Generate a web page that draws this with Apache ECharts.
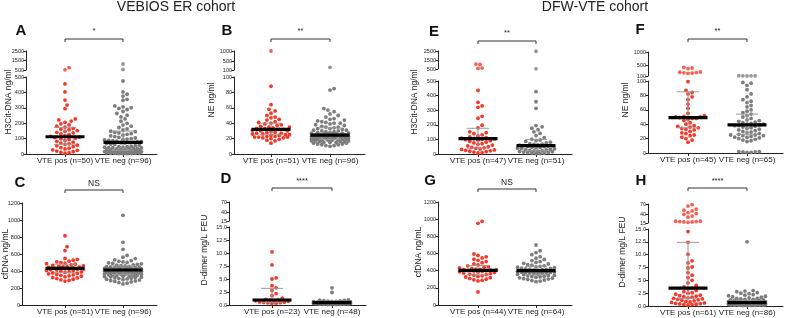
<!DOCTYPE html>
<html><head><meta charset="utf-8">
<script src="https://cdn.jsdelivr.net/npm/echarts@6/dist/echarts.min.js"></script>
<style>html,body{margin:0;padding:0;background:#fff}#c{width:786px;height:318px}</style>
</head><body><div id="c"></div>
<script>
// ---------- DATA ----------
const A_pos = [750,520,455,403,350,318,294,228,221,214,206,196,189,181,174,166,161,158,152,147,141,137,131,126,119,114,110,107,103,99,94,89,82,77,71,66,62,57,53,47,42,38,33,27,24,19,15,11,8,5];
const A_neg = [1130,560,474,403,388,376,355,349,312,306,301,296,289,276,263,252,241,228,213,199,188,181,172,163,156,148,145,141,137,132,128,122,118,113,108,104,100,97,94,91,89,86,83,80,78,76,74,73,71,68,64,61,57,54,51,48,47,45,44,42,41,39,37,36,34,33,31,30,28,27,26,24,23,21,20,19,18,16,15,14,13,12,11,10,9,8,8,7,6,5,5,4,3,3,2,2];
const B_pos = [1000,88,64,58,56,53,50,48,47,45,44,42,41,40,39,38,37,36,35,35,34,33,33,32,32,31,30,30,29,28,28,27,27,26,26,25,25,24,24,23,23,22,22,22,21,21,20,19,18,17,14];
const B_neg = [228,85,83,59,57,55,52,50,48,46,45,44,43,42,41,40,40,39,38,37,36,35,35,34,33,33,32,31,31,30,30,29,29,28,28,27,27,27,26,26,26,26,25,25,25,25,24,24,24,24,24,23,23,23,23,22,22,22,22,22,21,21,21,21,20,20,20,20,19,19,19,19,18,18,18,18,17,17,17,16,16,16,15,15,15,14,14,13,13,12,12,11,11,10,20,21];
const C_pos = [815,686,640,548,536,527,516,508,499,493,486,480,473,466,461,457,452,446,441,437,434,431,429,426,423,419,415,411,406,401,397,392,388,383,377,371,366,360,354,349,343,338,331,325,318,311,303,296,290,282,452];
const C_neg = [1055,737,655,583,562,546,532,521,514,507,501,496,489,484,478,473,468,464,459,455,451,448,445,441,438,436,433,430,428,425,423,420,418,416,414,412,410,409,407,405,403,401,399,397,395,393,391,389,387,385,383,381,378,376,373,371,368,366,363,361,358,355,352,349,346,343,340,337,334,331,327,323,319,315,311,307,303,298,293,288,283,277,271,264,257,248,412,408,402,396,420,430,440,386,375,364];
const D_pos = [10.2,7.7,5.2,5.0,3.7,3.3,2.8,2.2,1.8,1.3,1.1,1.0,0.95,0.9,0.8,0.7,0.6,0.55,0.5,0.45,0.4,0.35,0.3];
const D_neg = [3.3,2.4,1.0,0.95,0.9,0.85,0.8,0.75,0.7,0.7,0.65,0.6,0.6,0.55,0.55,0.5,0.5,0.5,0.48,0.46,0.45,0.45,0.44,0.42,0.4,0.4,0.38,0.36,0.35,0.34,0.32,0.3,0.3,0.28,0.26,0.25,0.24,0.22,0.2,0.2,0.18,0.16,0.15,0.14,0.12,0.1,0.1,0.08];
const E_pos = [1050,1000,600,560,436,354,329,320,258,245,197,178,152,146,139,131,124,117,112,108,106,103,101,98,95,91,86,81,76,71,66,61,55,50,46,42,39,35,31,28,25,22,19,16,13,10,7];
const E_neg = [2470,520,427,358,313,195,186,177,166,152,141,126,112,101,96,91,86,81,76,71,68,65,62,60,58,56,54,52,50,47,45,42,40,37,35,32,30,28,25,23,21,19,17,15,13,11,9,7,5,4,3];
const F_pos = [420,400,380,250,240,230,220,210,200,99,87,84,82,78,74,68,62,55,52,51,50,50,49,48,48,47,45,42,40,38,37,36,35,34,33,32,30,28,27,25,24,22,20,18,15];
const F_neg = [110,108,106,105,104,98,97,94,88,82,78,74,72,70,66,64,60,58,56,54,52,50,48,46,45,44,43,42,41,40,40,39,38,38,37,36,35,34,33,32,31,30,29,28,27,26,25,25,24,24,23,22,22,21,20,19,18,17,16,2,2,1.5,1.5,1,1];
const G_pos = [975,952,594,578,561,548,533,521,506,492,479,466,456,447,439,432,425,418,412,409,405,401,398,395,391,387,383,378,372,366,360,353,347,340,333,326,318,310,301,293,287,280,152,415];
const G_neg = [699,632,611,586,563,546,531,518,506,496,486,478,470,463,456,450,445,440,435,430,426,422,418,414,410,407,404,401,398,395,392,389,386,383,380,377,373,369,365,361,357,353,348,344,340,336,331,327,322,317,312,307,302,297,291,285,279,272,396,404,411,388,379,399];
const H_pos = [68,64,55,52,50,45,42,40,35,32,20,20,19,19,18,18,17,14.5,12.4,10.1,8.8,8.4,7.6,7.4,6.5,6.0,5.5,5.0,4.5,4.0,3.7,3.5,3.3,3.0,2.8,2.6,2.5,2.3,2.1,2.0,1.9,1.8,1.7,1.6,1.5,1.4,1.3,1.2,1.1,1.0,0.9,0.8,0.7,0.6,0.5,0.45,0.4,0.35,0.3,0.25,0.2];
const H_neg = [12.5,3.0,2.9,2.8,2.6,2.5,2.4,2.2,2.1,2.0,1.9,1.8,1.7,1.6,1.5,1.5,1.4,1.3,1.3,1.2,1.2,1.1,1.1,1.0,1.0,1.0,0.9,0.9,0.9,0.85,0.8,0.8,0.8,0.75,0.7,0.7,0.7,0.7,0.65,0.65,0.6,0.6,0.6,0.6,0.55,0.55,0.55,0.5,0.5,0.5,0.5,0.48,0.46,0.45,0.45,0.44,0.42,0.4,0.4,0.4,0.38,0.36,0.35,0.35,0.34,0.32,0.3,0.3,0.3,0.28,0.26,0.25,0.25,0.24,0.22,0.2,0.2,0.2,0.18,0.16,0.15,0.14,0.12,0.1,0.1,0.08];

// median, Q1, Q3 per group [pos, neg]
const A_sum = [[112,63,173],[75,25,149]];
const B_sum = [[32,25,40],[24.5,19,34]];
const C_sum = [[431,380,480],[412,360,460]];
const D_sum = [[0.96,0.5,3.2],[0.45,0.3,0.7]];
const E_sum = [[105,40,176],[57,22,100]];
const F_sum = [[49,35,85],[39,26,54]];
const G_sum = [[404,350,460],[400,350,450]];
const H_sum = [[3.5,1.5,12.4],[0.65,0.4,1.1]];

// category labels
const A_x = ['VTE pos (n=50)','VTE neg (n=96)'];
const B_x = ['VTE pos (n=51)','VTE neg (n=96)'];
const C_x = ['VTE pos (n=51)','VTE neg (n=96)'];
const D_x = ['VTE pos (n=23)','VTE neg (n=48)'];
const E_x = ['VTE pos (n=47)','VTE neg (n=51)'];
const F_x = ['VTE pos (n=45)','VTE neg (n=65)'];
const G_x = ['VTE pos (n=44)','VTE neg (n=64)'];
const H_x = ['VTE pos (n=61)','VTE neg (n=86)'];

// tick labels
const H3_topTicks = [500,1500,2500];
const H3_lowTicks = [0,100,200,300,400,500];
const NE_topTicks = [100,500,1000];
const NE_lowTicks = [0,20,40,60,80,100];
const CF_ticks = [0,200,400,600,800,1000,1200];
const DD_topTicks = [15,40,70];
const DD_lowTicks = [0,2.5,5,7.5,10,12.5,15];

const titles = ['VEBIOS ER cohort','DFW-VTE cohort'];
const yNames = ['H3Cit-DNA ng/ml','NE ng/ml','cfDNA ng/mL','D-dimer mg/L FEU'];
const sigs = ['*','**','NS','****','**','**','NS','****'];
const letters = ['A','B','C','D','E','F','G','H'];

// ---------- LAYOUT ----------
const FONT = 'Liberation Sans, Arial, Helvetica, sans-serif';
const RED = '#f4392b', GREY = '#7d7d7d';
const DOT = 3.8;
const panels = [
 {pos:A_pos,neg:A_neg,sum:A_sum,xl:A_x,yn:yNames[0],top:H3_topTicks,low:H3_lowTicks,dec:0,
  g:{left:26,c0:65,c1:123,right:157,topY:[51,70],lowY:[77,154],letter:[21,31],yn:[9,102],brY:39,sigY:31}},
 {pos:B_pos,neg:B_neg,sum:B_sum,xl:B_x,yn:yNames[1],top:NE_topTicks,low:NE_lowTicks,dec:0,
  g:{left:234,c0:271,c1:330,right:365,topY:[51,70],lowY:[77,154],letter:[227,31],yn:[212,100],brY:39,sigY:31}},
 {pos:C_pos,neg:C_neg,sum:C_sum,xl:C_x,yn:yNames[2],top:null,low:CF_ticks,dec:0,
  g:{left:22,c0:65,c1:123,right:157,lowY:[203,305],letter:[20,183],yn:[6,254],brY:190,sigY:184}},
 {pos:D_pos,neg:D_neg,sum:D_sum,xl:D_x,yn:yNames[3],top:DD_topTicks,low:DD_lowTicks,dec:1,
  g:{left:229,c0:272,c1:332,right:366,topY:[202,221],lowY:[227,305],letter:[226,179],yn:[205,250],brY:188,sigY:181}},
 {pos:E_pos,neg:E_neg,sum:E_sum,xl:E_x,yn:yNames[0],top:H3_topTicks,low:H3_lowTicks,dec:0,
  g:{left:438,c0:478,c1:536,right:572,topY:[51,69],lowY:[81,154],letter:[434,32],yn:[415,102],brY:41,sigY:33}},
 {pos:F_pos,neg:F_neg,sum:F_sum,xl:F_x,yn:yNames[1],top:NE_topTicks,low:NE_lowTicks,dec:0,
  g:{left:648,c0:688,c1:747,right:783,topY:[52,76],lowY:[81,153],letter:[640,30],yn:[626,100],brY:39,sigY:31}},
 {pos:G_pos,neg:G_neg,sum:G_sum,xl:G_x,yn:yNames[2],top:null,low:CF_ticks,dec:0,
  g:{left:438,c0:478,c1:536,right:572,lowY:[202,305],letter:[430,181],yn:[419,252],brY:189,sigY:183}},
 {pos:H_pos,neg:H_neg,sum:H_sum,xl:H_x,yn:yNames[3],top:DD_topTicks,low:DD_lowTicks,dec:1,
  g:{left:648,c0:688,c1:747,right:783,topY:[204,223],lowY:[229,306],letter:[641,181],yn:[623,252],brY:188,sigY:181}}
];

// deterministic beeswarm layout (pixel offsets)
function swarm(vals, toPx, dia, maxW){
  const order = vals.map((v,i)=>i).sort((a,b)=>vals[a]-vals[b]);
  const placed = [], off = new Array(vals.length);
  const step = dia*0.5, nMax = Math.floor(maxW/step);
  for (const i of order){
    const y = toPx(vals[i]);
    let best = 0, bestD = -1;
    for (let k=0;k<=2*nMax;k++){
      const m = Math.ceil(k/2), x = (k%2 ? 1 : -1)*m*step;
      let minD = Infinity;
      for (const p of placed){
        if (Math.abs(p[1]-y) >= dia) continue;
        const d = Math.hypot(p[0]-x, p[1]-y);
        if (d < minD) minD = d;
      }
      if (minD >= dia){ best = x; break; }
      if (minD > bestD){ bestD = minD; best = x; }
    }
    off[i] = best; placed.push([best,y]);
  }
  return off;
}

const grids=[], xAxes=[], yAxes=[], series=[], graphic=[];
const axisLine = {show:true,onZero:false,lineStyle:{color:'#222',width:1}};
const tickStyle = {color:'#222',width:1};

panels.forEach((p,pi)=>{
  const g = p.g, sp = g.c1-g.c0;
  const xmin = (g.left-g.c0)/sp, xmax = (g.right-g.c0)/sp;
  const lowMin = p.low[0], lowMax = p.low[p.low.length-1];
  const hasTop = !!p.top;
  const toPx = v=>{
    if (hasTop && v>lowMax){ const t=p.top; return g.topY[1]-(v-t[0])/(t[t.length-1]-t[0])*(g.topY[1]-g.topY[0]); }
    return g.lowY[1]-(v-lowMin)/(lowMax-lowMin)*(g.lowY[1]-g.lowY[0]);
  };
  const groups = [p.pos,p.neg];
  const offs = groups.map(v=>swarm(v,toPx,DOT+0.3,20));
  const fmt = v=> p.dec ? Number(v).toFixed(p.dec) : String(v);

  // lower grid
  const gi = grids.length;
  grids.push({left:g.left,top:g.lowY[0],width:g.right-g.left,height:g.lowY[1]-g.lowY[0]});
  xAxes.push({gridIndex:gi,type:'value',min:xmin,max:xmax,axisLine,
    axisTick:{show:true,customValues:[0,1],length:3,lineStyle:tickStyle},
    axisLabel:{show:true,customValues:[0,1],hideOverlap:false,formatter:v=>p.xl[Math.round(v)],fontSize:8,color:'#222',margin:3,fontFamily:FONT},
    splitLine:{show:false}});
  yAxes.push({gridIndex:gi,type:'value',min:lowMin,max:lowMax,interval:p.low[1]-p.low[0],axisLine,
    axisTick:{show:true,length:2.5,lineStyle:tickStyle},
    axisLabel:{fontSize:5.5,color:'#222',margin:2,hideOverlap:false,formatter:fmt,fontFamily:FONT},
    splitLine:{show:false}});
  groups.forEach((vals,k)=>{
    const data = [];
    vals.forEach((v,i)=>{ if(!(hasTop && v>lowMax)) data.push([k+offs[k][i]/sp, v]); });
    series.push({type:'scatter',xAxisIndex:gi,yAxisIndex:gi,data,symbol:'circle',symbolSize:DOT,clip:false,
      itemStyle:{color:k?GREY:RED,opacity:1},silent:true,z:2});
  });
  series.push({type:'custom',xAxisIndex:gi,yAxisIndex:gi,z:5,silent:true,clip:false,
    data:p.sum.map((s,k)=>[k,s[0],s[1],s[2]]),encode:{x:0,y:1},
    renderItem:(params,api)=>{
      const x=api.value(0), pm=api.coord([x,api.value(1)]), p1=api.coord([x,api.value(2)]), p3=api.coord([x,api.value(3)]);
      const st={stroke:'#9a9a9a',lineWidth:1};
      return {type:'group',children:[
        {type:'line',shape:{x1:pm[0],y1:p1[1],x2:pm[0],y2:p3[1]},style:st},
        {type:'line',shape:{x1:pm[0]-11,y1:p1[1],x2:pm[0]+11,y2:p1[1]},style:st},
        {type:'line',shape:{x1:pm[0]-11,y1:p3[1],x2:pm[0]+11,y2:p3[1]},style:st},
        {type:'rect',shape:{x:pm[0]-19.5,y:pm[1]-1.6,width:39,height:3.2},style:{fill:'#000'}}
      ]};
    }});

  // top (broken-axis) grid
  if (hasTop){
    const ti = grids.length, t = p.top;
    grids.push({left:g.left,top:g.topY[0],width:g.right-g.left,height:g.topY[1]-g.topY[0]});
    xAxes.push({gridIndex:ti,type:'value',min:xmin,max:xmax,show:false});
    yAxes.push({gridIndex:ti,type:'value',min:t[0],max:t[t.length-1],axisLine,
      axisTick:{show:true,length:2.5,customValues:t,lineStyle:tickStyle},
      axisLabel:{fontSize:5.5,color:'#222',margin:2,hideOverlap:false,customValues:t,formatter:v=>String(v),fontFamily:FONT},
      splitLine:{show:false}});
    groups.forEach((vals,k)=>{
      const data=[];
      vals.forEach((v,i)=>{ if(v>lowMax) data.push([k+offs[k][i]/sp, v]); });
      series.push({type:'scatter',xAxisIndex:ti,yAxisIndex:ti,data,symbol:'circle',symbolSize:DOT,clip:false,
        itemStyle:{color:k?GREY:RED},silent:true,z:2});
    });
  }

  // annotations
  graphic.push({type:'text',x:g.letter[0],y:g.letter[1],style:{text:letters[pi],fontSize:15,fontWeight:'bold',fontFamily:FONT,fill:'#111',align:'center',verticalAlign:'middle'}});
  graphic.push({type:'text',x:g.yn[0],y:g.yn[1],rotation:Math.PI/2,style:{text:p.yn,fontSize:8.5,fontFamily:FONT,fill:'#222',align:'center',verticalAlign:'middle'}});
  graphic.push({type:'polyline',shape:{points:[[g.c0,g.brY+3],[g.c0,g.brY],[g.c1,g.brY],[g.c1,g.brY+3]]},style:{stroke:'#333',lineWidth:1,fill:null}});
  graphic.push({type:'text',x:(g.c0+g.c1)/2,y:g.sigY,style:{text:sigs[pi],fontSize:sigs[pi]==='NS'?8.5:7.5,fontFamily:FONT,fill:'#222',align:'center',verticalAlign:'middle'}});
});

graphic.push({type:'text',x:176,y:7,style:{text:titles[0],fontSize:14,fontFamily:FONT,fill:'#222',align:'center',verticalAlign:'middle'}});
graphic.push({type:'text',x:595,y:7,style:{text:titles[1],fontSize:14,fontFamily:FONT,fill:'#222',align:'center',verticalAlign:'middle'}});

const chart = echarts.init(document.getElementById('c'),null,{renderer:'canvas'});
chart.setOption({animation:false,backgroundColor:'#fff',textStyle:{fontFamily:FONT},
  grid:grids,xAxis:xAxes,yAxis:yAxes,series,graphic});
</script></body></html>
